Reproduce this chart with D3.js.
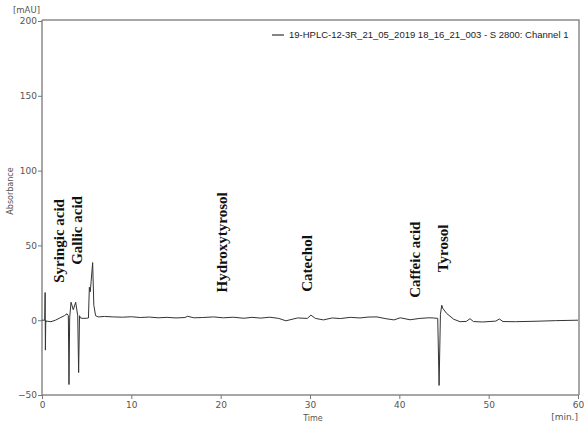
<html>
<head>
<meta charset="utf-8">
<script src="https://d3js.org/d3.v7.min.js"></script>
<style>
  body { margin: 0; background: #fff; }
  svg { display: block; }
  .tick text { font-family: "DejaVu Sans", sans-serif; font-size: 9px; fill: #555; }
  .peak { font-family: "Liberation Serif", serif; font-weight: bold; font-size: 15px; fill: #111; }
</style>
</head>
<body>
<svg id="chart" width="584" height="423"></svg>
<script>
// chromatogram: time [min] / absorbance [mAU]
const time = [
  0, 0.3, 0.35, 0.38, 0.42, 0.47, 0.6, 1.0, 1.5, 2.0, 2.5, 2.8, 2.95, 3.02, 3.1, 3.25,
  3.5, 3.77, 4.0, 4.1, 4.2, 4.3, 4.6, 5.0, 5.2, 5.3, 5.4, 5.5, 5.67, 5.8, 6.0, 6.3,
  7, 8, 9, 10, 11, 12, 13, 14, 15, 16, 16.3, 17, 18, 19.2, 20.3, 21.4, 22.6, 23.5,
  24.5, 25.5, 26.5, 27.3, 28.6, 29.7, 30.1, 30.6, 31.5, 32.5, 33.4, 34.5, 35.6, 36.5,
  37.5, 38.5, 39.4, 40.1, 41.2, 42.3, 43.3, 43.8, 44.3, 44.45, 44.6, 44.75, 44.85, 45.3,
  46.1, 46.8, 47.5, 47.9, 48.3, 49.3, 50.8, 51.2, 51.6, 53.0, 55.3, 57.5, 60
];
const absorbance = [
  0, 0, 18.5, -20, 0, -1, -0.7, -1, 0, 1.5, 3, 4.3, 3, -43, 2, 12,
  7, 12, 3, -35, 3, 1.5, 1.2, 1.3, 1.5, 22, 19, 26, 38.5, 10, 3, 2.2,
  2.5, 2.2, 2, 2.3, 1.8, 2.1, 1.6, 1.9, 1.5, 1.8, 2.6, 1.6, 1.8, 2.2, 1.6, 2, 1.3, 1.9,
  1.4, 2, 1.2, -0.4, 1.5, 1.2, 3.4, 1.2, 0.2, 1.5, 1.1, 1.9, 1.5, 2.1,
  2.2, 1.0, 0.2, 1.6, 0.3, 1.2, 1.6, 1.5, 1.2, -43.6, 4, 10, 8, 4.5,
  0.6, -1, -0.8, 1, -0.9, -1.2, -0.6, 0.8, -0.9, -1, -0.7, -0.3, 0
];

const xTicks = [0, 10, 20, 30, 40, 50, 60];
const yTicks = [-50, 0, 50, 100, 150, 200];

// compound annotations: name, retention time, value at the foot of the label
const peakNames = ["Syringic acid", "Gallic acid", "Hydroxytyrosol", "Catechol", "Caffeic acid", "Tyrosol"];
const peakTimes = [1.9, 3.9, 20.2, 29.7, 41.8, 44.9];
const peakFoot = [25, 37, 18.5, 19, 15, 32];

const legendText = "19-HPLC-12-3R_21_05_2019 18_16_21_003 - S 2800: Channel 1";

const svg = d3.select("#chart");
const mLeft = 42, mRight = 579, mTop = 20, mBottom = 395;

const x = d3.scaleLinear().domain([0, 60]).range([mLeft, 578]);
const y = d3.scaleLinear().domain([-50, 200]).range([mBottom, 21]);

// frame (top and right)
svg.append("path")
  .attr("d", `M${mLeft},${mTop}H${mRight}V${mBottom}`)
  .attr("fill", "none")
  .attr("stroke", "#8a8a8a")
  .attr("stroke-width", 1.5);

const xAxis = svg.append("g")
  .attr("transform", `translate(0,${mBottom})`)
  .call(d3.axisBottom(x).tickValues(xTicks).tickSize(4).tickPadding(3));
const yAxis = svg.append("g")
  .attr("transform", `translate(${mLeft},0)`)
  .call(d3.axisLeft(y).tickValues(yTicks).tickSize(4).tickPadding(1));

[xAxis, yAxis].forEach(g => {
  g.select(".domain").attr("stroke", "#8a8a8a").attr("stroke-width", 1.5);
  g.selectAll(".tick line").attr("stroke", "#777");
});
yAxis.select(".domain").attr("d", `M0,${mTop}V${mBottom}`);
xAxis.select(".domain").attr("d", `M${mLeft},0H${mRight}`);

// unit labels
svg.append("text").attr("x", 13).attr("y", 13)
  .style("font-family", "DejaVu Sans, sans-serif").style("font-size", "8.5px").style("fill", "#555")
  .text("[mAU]");
svg.append("text").attr("x", 578).attr("y", 420).attr("text-anchor", "end")
  .style("font-family", "DejaVu Sans, sans-serif").style("font-size", "9px").style("fill", "#555")
  .text("[min.]");
svg.append("text").attr("x", 313).attr("y", 421).attr("text-anchor", "middle")
  .style("font-family", "DejaVu Sans, sans-serif").style("font-size", "8px").style("fill", "#555")
  .text("Time");
svg.append("text")
  .attr("transform", "translate(13,191) rotate(-90)")
  .attr("text-anchor", "middle")
  .style("font-family", "DejaVu Sans, sans-serif").style("font-size", "8px").style("fill", "#555")
  .text("Absorbance");

// signal
const line = d3.line().x((d, i) => x(time[i])).y(d => y(d));
svg.append("path")
  .datum(absorbance)
  .attr("d", line)
  .attr("fill", "none")
  .attr("stroke", "#333")
  .attr("stroke-width", 1)
  .attr("stroke-linejoin", "round");

// compound names, rotated
svg.selectAll("text.peak")
  .data(peakNames)
  .join("text")
  .attr("class", "peak")
  .attr("transform", (d, i) => `translate(${x(peakTimes[i]) + 5},${y(peakFoot[i])}) rotate(-90)`)
  .text(d => d);

// legend
svg.append("line")
  .attr("x1", 272).attr("x2", 284).attr("y1", 35).attr("y2", 35)
  .attr("stroke", "#333").attr("stroke-width", 1.2);
svg.append("text")
  .attr("x", 289).attr("y", 38)
  .style("font-family", "Liberation Sans, Arial, sans-serif").style("font-size", "9.5px").style("fill", "#222")
  .text(legendText);
</script>
</body>
</html>
